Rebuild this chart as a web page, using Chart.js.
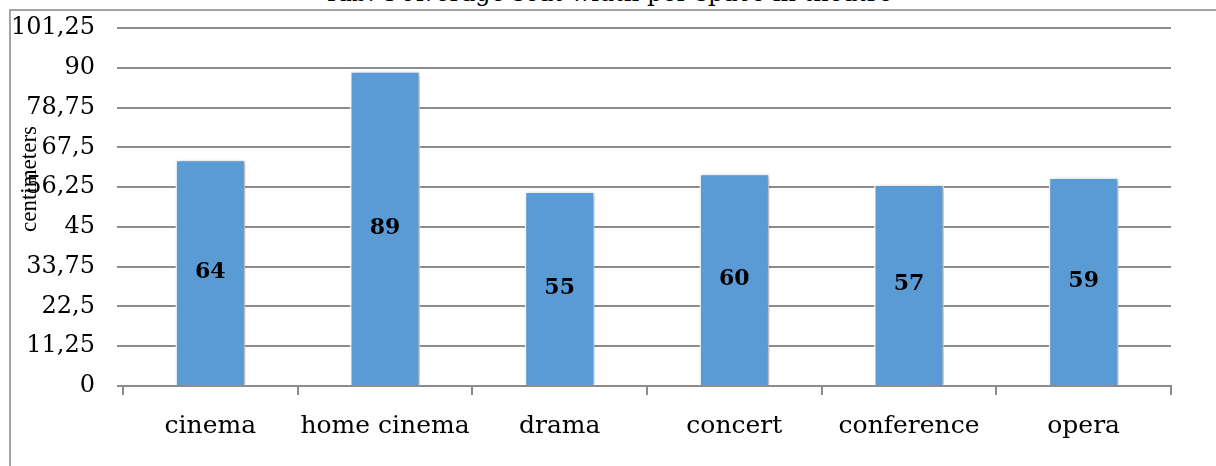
<!DOCTYPE html>
<html>
<head>
<meta charset="utf-8">
<script src="https://cdn.jsdelivr.net/npm/chart.js@4"></script>
<style>
  html, body { margin: 0; padding: 0; background: #fff; overflow: hidden; }
  #wrap { position: relative; width: 1216px; height: 466px; overflow: hidden; }
  #frame { position: absolute; left: 9px; top: 9px; width: 1220px; height: 470px;
           border-top: 2px solid #a5a5a5; border-left: 2px solid #a5a5a5; }
  #title { position: absolute; left: 0; width: 1216px; top: -19px; text-align: center;
           font: 24px "DejaVu Serif", serif; line-height: 24px; color: #000; }
  canvas { position: absolute; left: 0; top: 0; }
</style>
</head>
<body>
<div id="wrap">
  <div id="frame"></div>
  <div id="title">Tab. 3 Average seat width per space in theatre</div>
  <canvas id="chart" width="1216" height="466"></canvas>
</div>
<script>
// data
const categories = ['cinema', 'home cinema', 'drama', 'concert', 'conference', 'opera'];
const seatWidth = [64, 89, 55, 60, 57, 59];
const yTicks = [0, 11.25, 22.5, 33.75, 45, 56.25, 67.5, 78.75, 90, 101.25];
const yTitle = 'centimeters';

const serif = '"DejaVu Serif", serif';

// soft shadow behind the bars
const barShadow = {
    id: 'barShadow',
    beforeDatasetsDraw(chart) {
        const ctx = chart.ctx;
        ctx.save();
        ctx.shadowColor = 'rgba(0,0,0,0.35)';
        ctx.shadowBlur = 4;
        ctx.shadowOffsetX = 2;
        ctx.shadowOffsetY = 1;
    },
    afterDatasetsDraw(chart) {
        chart.ctx.restore();
    }
};

// value in the middle of each bar + rotated axis title
const barLabels = {
    id: 'barLabels',
    afterDraw(chart) {
        const ctx = chart.ctx;
        const meta = chart.getDatasetMeta(0);
        ctx.save();
        ctx.fillStyle = '#000';
        ctx.font = 'bold 22px ' + serif;
        ctx.textAlign = 'center';
        ctx.textBaseline = 'middle';
        meta.data.forEach((bar, i) => {
            ctx.fillText(String(seatWidth[i]), bar.x, (bar.y + bar.base) / 2);
        });
        // y axis title, sits over the tick labels like the original
        const area = chart.chartArea;
        ctx.translate(area.left - 87, area.top + 151);
        ctx.rotate(-Math.PI / 2);
        ctx.font = '23px "Liberation Serif", serif';
        ctx.textAlign = 'center';
        ctx.textBaseline = 'alphabetic';
        ctx.fillText(yTitle, 0, 0);
        ctx.restore();
    }
};

const ctx = document.getElementById('chart').getContext('2d');
new Chart(ctx, {
    type: 'bar',
    data: {
        labels: categories,
        datasets: [{
            data: seatWidth,
            backgroundColor: '#5b9bd5',
            borderColor: '#ffffff',
            borderWidth: 1.5,
            barPercentage: 0.4,
            categoryPercentage: 1
        }]
    },
    options: {
        responsive: false,
        animation: false,
        layout: { padding: { top: 28, right: 45, left: 0, bottom: 0 } },
        plugins: {
            legend: { display: false },
            tooltip: { enabled: false }
        },
        scales: {
            x: {
                grid: {
                    offset: true,
                    drawOnChartArea: false,
                    color: '#8c8c8c',
                    lineWidth: 2,
                    tickLength: 9
                },
                border: { display: true, color: '#8c8c8c', width: 2 },
                ticks: {
                    color: '#000',
                    font: { family: serif, size: 25 },
                    padding: 16,
                    maxRotation: 0,
                    minRotation: 0,
                    autoSkip: false
                },
                afterFit(scale) { scale.height = 80; }
            },
            y: {
                min: 0,
                max: 101.25,
                afterBuildTicks(scale) {
                    scale.ticks = yTicks.map(v => ({ value: v }));
                },
                grid: {
                    color: '#8c8c8c',
                    lineWidth: 2,
                    tickLength: 6
                },
                border: { display: false },
                ticks: {
                    color: '#000',
                    font: { family: serif, size: 24 },
                    padding: 22,
                    callback: v => String(v).replace('.', ',')
                },
                afterFit(scale) {
                    scale.width = 123;
                    scale.paddingTop = 0;
                    scale.paddingBottom = 0;
                }
            }
        }
    },
    plugins: [barShadow, barLabels]
});
</script>
</body>
</html>
